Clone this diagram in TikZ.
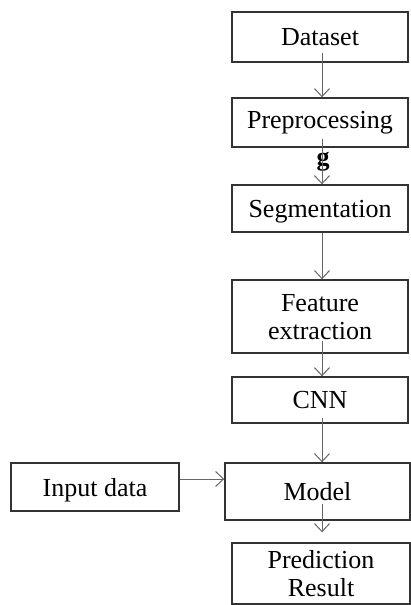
\documentclass[tikz,border=0pt]{standalone}
\usepackage{fontspec}
\setmainfont{Liberation Serif}
\usetikzlibrary{arrows.meta}

\begin{document}
\begin{tikzpicture}[x=1pt,y=-1pt,
  blk/.style={draw=black!80,line width=1.4pt,inner sep=0pt,align=center,minimum width=176pt,font=\fontsize{26}{28}\selectfont},
  lnk/.style={draw=black!60,line width=1pt,-{Straight Barb[length=8pt,width=15pt]}}]
\useasboundingbox (0,0) rectangle (410,605);
\node[blk,minimum height=50pt,text depth=-10pt] (dataset) at (320,37) {Dataset};
\node[blk,minimum height=49pt] (prep) at (320,122.5) {Preprocessing};
\node[font=\fontsize{26}{28}\selectfont\bfseries] (gpart) at (323,162) {g};
\node[blk,minimum height=47pt,text depth=-6.5pt] (seg) at (320,208.5) {Segmentation};
\node[blk,minimum height=73pt,text depth=-9pt] (feat) at (320,316.5) {Feature\\extraction};
\node[blk,minimum height=46pt,text depth=-4pt] (cnn) at (320,400) {CNN};
\node[blk,minimum width=185pt,minimum height=57pt,text depth=-12pt] (model) at (317.5,491.5) {Model};
\node[blk,minimum width=168pt,minimum height=48pt,text depth=-2.5pt] (input) at (95,487) {Input data};
\node[blk,minimum width=178pt,minimum height=61pt,text depth=-13pt] (pred) at (321,573.5) {Prediction\\Result};
\draw[lnk] ([xshift=2pt,yshift=10pt]dataset.south) -- ([xshift=2pt]prep.north);
\draw[lnk] ([xshift=2pt,yshift=9pt]prep.south) -- ([xshift=2pt]seg.north);
\draw[lnk] ([xshift=2pt]seg.south) -- ([xshift=2pt]feat.north);
\draw[lnk] ([xshift=2pt,yshift=13pt]feat.south) -- ([xshift=2pt]cnn.north);
\draw[lnk] ([xshift=2pt,yshift=6pt]cnn.south) -- ([xshift=4.5pt]model.north);
\draw[lnk] ([yshift=8pt]input.east) -- ([yshift=8pt]input.east -| model.west);
\draw[lnk] ([xshift=4.5pt,yshift=17pt]model.south) -- ([xshift=1pt,yshift=10pt]pred.north);
\end{tikzpicture}
\end{document}
